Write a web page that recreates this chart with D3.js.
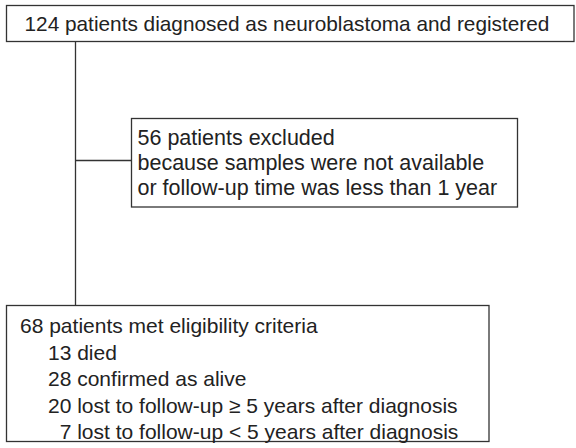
<!DOCTYPE html>
<html>
<head>
<meta charset="utf-8">
<script src="https://cdn.jsdelivr.net/npm/d3@7"></script>
<style>
  html, body { margin: 0; padding: 0; background: #fff; }
  svg { display: block; }
  text { font-family: "Liberation Sans", Arial, Helvetica, sans-serif; fill: #222; }
</style>
</head>
<body>
<script>
// ---- content ----
const topLines = ["124 patients diagnosed as neuroblastoma and registered"];
const excludedLines = [
  "56 patients excluded",
  "because samples were not available",
  "or follow-up time was less than 1 year"
];
const eligibleHeader = "68 patients met eligibility criteria";
const eligibleCounts = [13, 28, 20, 7];
const eligibleLabels = [
  "died",
  "confirmed as alive",
  "lost to follow-up \u2265 5 years after diagnosis",
  "lost to follow-up < 5 years after diagnosis"
];

// ---- layout ----
const W = 576, H = 448;
const fontSize = 21;
const svg = d3.select("body").append("svg").attr("width", W).attr("height", H);

const boxes = [
  { id: "top", x: 6.5, y: 5.5, w: 567.5, h: 36 },
  { id: "excl", x: 131.5, y: 118.5, w: 386, h: 88.5 },
  { id: "elig", x: 6.5, y: 305.5, w: 482.5, h: 136 }
];
const box = id => boxes.find(b => b.id === id);

// connectors
const trunkX = 75.5;
const conn = svg.append("g").attr("stroke", "#333").attr("stroke-width", 1.3).attr("fill", "none");
conn.append("line").attr("x1", trunkX).attr("x2", trunkX)
  .attr("y1", box("top").y + box("top").h).attr("y2", box("elig").y);
conn.append("line").attr("x1", trunkX).attr("x2", box("excl").x)
  .attr("y1", 160.5).attr("y2", 160.5);

// boxes
svg.append("g").selectAll("rect").data(boxes).join("rect")
  .attr("x", d => d.x).attr("y", d => d.y).attr("width", d => d.w).attr("height", d => d.h)
  .attr("fill", "none").attr("stroke", "#333").attr("stroke-width", 1.3);

// text
const txt = svg.append("g").attr("font-size", fontSize);
txt.selectAll("text.top").data(topLines).join("text").attr("class", "top")
  .attr("x", 24.5).attr("y", 31).attr("font-size", 20.8).text(d => d);

const exclY = d3.scaleLinear().domain([0, 1]).range([145, 170]);
txt.selectAll("text.excl").data(excludedLines).join("text").attr("class", "excl")
  .attr("x", 137.5).attr("y", (d, i) => exclY(i)).attr("font-size", 21.5).text(d => d);

const eligY = d3.scaleLinear().domain([0, 1]).range([333, 359.5]);
txt.append("text").attr("x", 20).attr("y", eligY(0)).text(eligibleHeader);

const digitW = fontSize * 0.556;
const numRight = 48 + 2 * digitW;
const rows = eligibleCounts.map((c, i) => ({ c, label: eligibleLabels[i], i }));
const rowG = txt.selectAll("g.row").data(rows).join("g").attr("class", "row");
rowG.append("text").attr("text-anchor", "end").attr("x", numRight)
  .attr("y", d => eligY(d.i + 1)).text(d => d.c);
rowG.append("text").attr("x", numRight + fontSize * 0.278)
  .attr("y", d => eligY(d.i + 1)).attr("textLength", null).text(d => d.label);
</script>
</body>
</html>
